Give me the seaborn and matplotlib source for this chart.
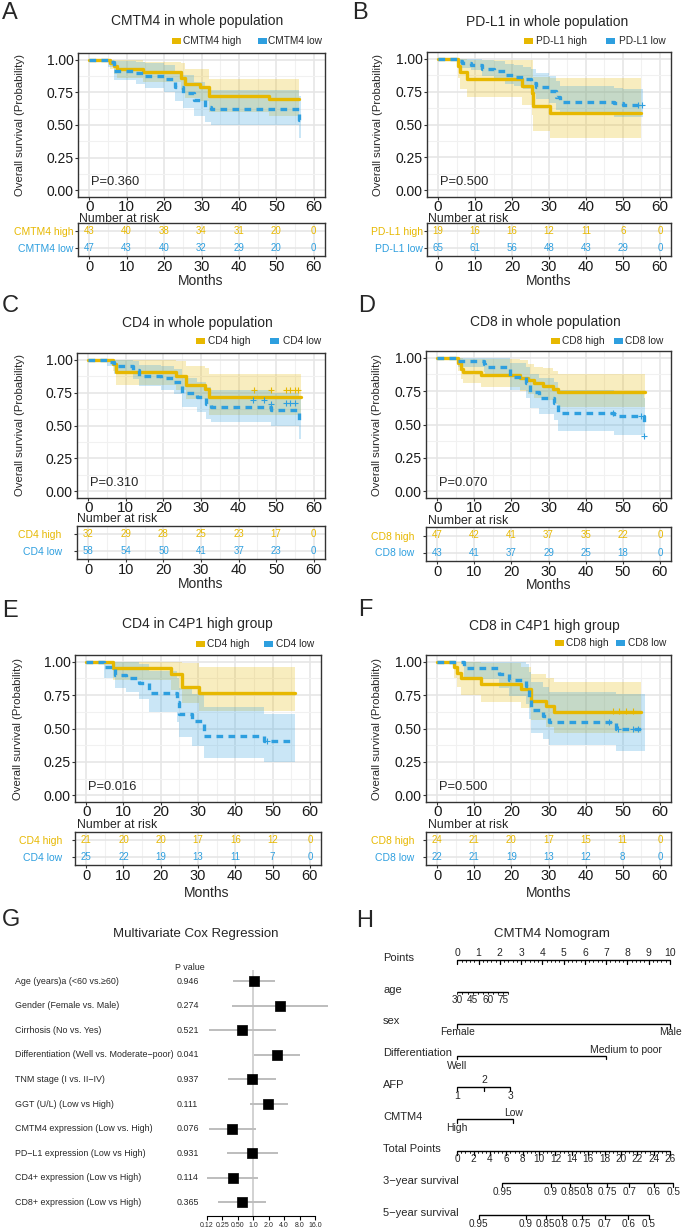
import numpy as np
import pandas as pd
import matplotlib
matplotlib.use("Agg")
import matplotlib.pyplot as plt
import matplotlib.transforms as mtransforms
from matplotlib.patches import Rectangle
from matplotlib import font_manager
import seaborn as sns

sns.set_theme(style="white")
plt.rcParams['font.family'] = ['Liberation Sans', 'DejaVu Sans']
installed = {f.name for f in font_manager.fontManager.ttflist}
HAS_NARROW = 'Liberation Sans Narrow' in installed
NARROW = ['Liberation Sans Narrow', 'DejaVu Sans'] if HAS_NARROW else ['Liberation Sans', 'DejaVu Sans']

HIGH_COL = '#E7B800'
LOW_COL = '#2E9FDF'

# ------------------------------------------------------------------
# Kaplan-Meier data (event times, survival, lower CI, upper CI)
# ------------------------------------------------------------------
risk_times = [0, 10, 20, 30, 40, 50, 60]

# A : CMTM4 whole population
A_high_t = [0, 5.5, 6.5, 7.5, 14.5, 24.5, 25.5, 29.5, 32, 48]
A_high_s = [1.0, 0.977, 0.953, 0.93, 0.907, 0.86, 0.81, 0.79, 0.72, 0.70]
A_high_lo = [1.0, 0.93, 0.89, 0.86, 0.83, 0.77, 0.71, 0.68, 0.60, 0.57]
A_high_hi = [1.0, 1.0, 1.0, 1.0, 0.98, 0.97, 0.93, 0.93, 0.85, 0.85]
A_low_t = [0, 5, 6.5, 12.5, 15, 20, 23, 25, 28, 31, 32.5, 56]
A_low_s = [1.0, 0.979, 0.915, 0.894, 0.872, 0.851, 0.787, 0.745, 0.69, 0.64, 0.62, 0.535]
A_low_lo = [1.0, 0.94, 0.84, 0.81, 0.78, 0.75, 0.68, 0.63, 0.57, 0.52, 0.50, 0.40]
A_low_hi = [1.0, 1.0, 0.99, 0.98, 0.97, 0.96, 0.91, 0.88, 0.83, 0.79, 0.77, 0.72]
A_risk_high = [43, 40, 38, 34, 31, 20, 0]
A_risk_low = [47, 43, 40, 32, 29, 20, 0]

# B : PD-L1 whole population
B_high_t = [0, 5.4, 5.9, 7.7, 22.6, 25.3, 25.7, 30.2]
B_high_s = [1.0, 0.947, 0.895, 0.842, 0.789, 0.737, 0.637, 0.585]
B_high_lo = [1.0, 0.85, 0.77, 0.71, 0.65, 0.57, 0.45, 0.40]
B_high_hi = [1.0, 1.0, 1.0, 0.99, 0.99, 0.99, 0.86, 0.855]
B_low_t = [0, 5.5, 6.5, 9, 12, 15, 18, 20.5, 23, 25, 26.5, 30, 32, 33, 47.5, 50]
B_low_s = [1.0, 0.985, 0.969, 0.954, 0.923, 0.908, 0.877, 0.862, 0.846, 0.815,
           0.785, 0.754, 0.71, 0.672, 0.66, 0.65]
B_low_lo = [1.0, 0.95, 0.93, 0.91, 0.87, 0.85, 0.81, 0.79, 0.77, 0.73,
            0.69, 0.66, 0.61, 0.57, 0.56, 0.555]
B_low_hi = [1.0, 1.0, 1.0, 1.0, 0.99, 0.98, 0.96, 0.95, 0.94, 0.92,
            0.89, 0.87, 0.83, 0.79, 0.78, 0.77]
B_low_cens_t = [54.2, 55.1]
B_low_cens_s = [0.65, 0.65]
B_risk_high = [19, 16, 16, 12, 11, 6, 0]
B_risk_low = [65, 61, 56, 48, 43, 29, 0]

# C : CD4 whole population
C_high_t = [0, 6.5, 7.3, 23.3, 26, 31, 32]
C_high_s = [1.0, 0.969, 0.906, 0.875, 0.81, 0.78, 0.72]
C_high_lo = [1.0, 0.91, 0.81, 0.77, 0.70, 0.66, 0.58]
C_high_hi = [1.0, 1.0, 1.0, 0.99, 0.95, 0.94, 0.89]
C_low_t = [0, 5, 6.9, 11.8, 13.5, 19.3, 22.8, 25, 29, 31.2, 32.6, 48.5, 56]
C_low_s = [1.0, 0.983, 0.948, 0.922, 0.876, 0.857, 0.833, 0.745, 0.714, 0.664,
           0.637, 0.619, 0.536]
C_low_lo = [1.0, 0.95, 0.89, 0.85, 0.80, 0.77, 0.74, 0.64, 0.60, 0.55, 0.53, 0.50, 0.40]
C_low_hi = [1.0, 1.0, 1.0, 0.99, 0.96, 0.95, 0.93, 0.86, 0.83, 0.79, 0.77, 0.75, 0.70]
C_high_cens_t = [44.2, 48.7, 52.7, 53.8, 54.9, 55.8]
C_high_cens_s = [0.77, 0.77, 0.77, 0.77, 0.77, 0.77]
C_low_cens_t = [43.8, 46.7, 48.7, 52.7, 53.8, 54.9]
C_low_cens_s = [0.69, 0.69, 0.664, 0.67, 0.67, 0.67]
C_risk_high = [32, 29, 28, 25, 23, 17, 0]
C_risk_low = [58, 54, 50, 41, 37, 23, 0]

# D : CD8 whole population
D_high_t = [0, 5.6, 6.5, 7, 11.9, 22.2, 24.4, 26.2, 28.5, 31.2, 32.5]
D_high_s = [1.0, 0.957, 0.915, 0.894, 0.872, 0.851, 0.830, 0.809, 0.787, 0.766, 0.745]
D_high_lo = [1.0, 0.90, 0.84, 0.81, 0.78, 0.75, 0.73, 0.70, 0.68, 0.65, 0.63]
D_high_hi = [1.0, 1.0, 1.0, 0.99, 0.99, 0.98, 0.95, 0.93, 0.92, 0.90, 0.875]
D_low_t = [0, 5.6, 12.5, 13, 19.5, 24, 25, 27.5, 31.6, 32.5, 47.6, 55.8]
D_low_s = [1.0, 0.977, 0.953, 0.93, 0.857, 0.81, 0.74, 0.70, 0.66, 0.585, 0.56, 0.51]
D_low_lo = [1.0, 0.93, 0.89, 0.86, 0.76, 0.70, 0.62, 0.58, 0.53, 0.45, 0.425, 0.40]
D_low_hi = [1.0, 1.0, 1.0, 1.0, 0.96, 0.93, 0.88, 0.85, 0.82, 0.76, 0.73, 0.70]
D_low_cens_t = [47.3, 54.9, 55.8]
D_low_cens_s = [0.585, 0.56, 0.417]
D_risk_high = [47, 42, 41, 37, 35, 22, 0]
D_risk_low = [43, 41, 37, 29, 25, 18, 0]

# E : CD4 in C4P1 high group
E_high_t = [0, 7.1, 22.7, 25.8, 30.2]
E_high_s = [1.0, 0.952, 0.905, 0.810, 0.762]
E_high_lo = [1.0, 0.86, 0.79, 0.69, 0.63]
E_high_hi = [1.0, 1.0, 1.0, 0.99, 0.96]
E_low_t = [0, 4.9, 7.6, 10.7, 14.2, 16.9, 24.4, 25, 28.4, 31.6, 47.6]
E_low_s = [1.0, 0.96, 0.90, 0.88, 0.84, 0.765, 0.70, 0.605, 0.555, 0.445, 0.405]
E_low_lo = [1.0, 0.88, 0.80, 0.77, 0.72, 0.62, 0.55, 0.44, 0.37, 0.28, 0.25]
E_low_hi = [1.0, 1.0, 1.0, 1.0, 0.98, 0.93, 0.88, 0.80, 0.76, 0.66, 0.61]
E_low_cens_t = [48.4]
E_low_cens_s = [0.41]
E_risk_high = [21, 20, 20, 17, 16, 12, 0]
E_risk_low = [25, 22, 19, 13, 11, 7, 0]

# F : CD8 in C4P1 high group
F_high_t = [0, 4.5, 5.4, 6.3, 11.7, 22.5, 25.2, 29.3, 31.5]
F_high_s = [1.0, 0.958, 0.917, 0.875, 0.833, 0.792, 0.708, 0.667, 0.625]
F_high_lo = [1.0, 0.88, 0.81, 0.75, 0.70, 0.65, 0.56, 0.51, 0.47]
F_high_hi = [1.0, 1.0, 1.0, 1.0, 0.99, 0.96, 0.91, 0.88, 0.85]
F_low_t = [0, 7.2, 16.7, 19.4, 24, 24.8, 25.2, 28.6, 30, 48.2]
F_low_s = [1.0, 0.955, 0.909, 0.864, 0.818, 0.727, 0.636, 0.591, 0.545, 0.50]
F_low_lo = [1.0, 0.87, 0.80, 0.74, 0.68, 0.57, 0.47, 0.42, 0.38, 0.33]
F_low_hi = [1.0, 1.0, 1.0, 1.0, 0.98, 0.92, 0.85, 0.81, 0.77, 0.76]
F_high_cens_t = [47.3, 49.1, 50.9, 52.7]
F_high_cens_s = [0.628, 0.628, 0.628, 0.628]
F_low_cens_t = [46.4, 48.6, 52.7, 54.0]
F_low_cens_s = [0.546, 0.5, 0.5, 0.5]
F_risk_high = [24, 21, 20, 17, 15, 11, 0]
F_risk_low = [22, 21, 19, 13, 12, 8, 0]

# G : multivariate Cox regression
cox_vars = ["Age (years)a (<60 vs.\u226560)", "Gender (Female vs. Male)", "Cirrhosis (No vs. Yes)",
            "Differentiation (Well vs. Moderate\u2212poor)", "TNM stage (I vs. II\u2212IV)",
            "GGT (U/L) (Low vs High)", "CMTM4 expression (Low vs. High)",
            "PD\u2212L1 expression (Low vs High)", "CD4+ expression (Low vs High)",
            "CD8+ expression (Low vs High)"]
cox_p = ['0.946', '0.274', '0.521', '0.041', '0.937', '0.111', '0.076', '0.931', '0.114', '0.365']
cox_hr = [1.04, 3.3, 0.60, 2.89, 0.97, 1.98, 0.39, 0.97, 0.40, 0.60]
cox_lo = [0.40, 0.38, 0.136, 1.04, 0.33, 0.86, 0.136, 0.31, 0.125, 0.21]
cox_hi = [2.67, 29.0, 2.83, 8.2, 2.83, 4.7, 1.13, 3.0, 1.27, 1.82]
cox_ticks = [0.125, 0.25, 0.5, 1, 2, 4, 8, 16]
cox_ticklabels = ['0.12', '0.25', '0.50', '1.0', '2.0', '4.0', '8.0', '16.0']

# H : nomogram (positions in points 0-10)
nomo_rows = ['Points', 'age', 'sex', 'Differentiation', 'AFP', 'CMTM4',
             'Total Points', '3\u2212year survival', '5\u2212year survival']
age_min, age_max = 30, 80
age_pts_max = 2.4
age_labels = [30, 45, 60, 75]
sex_levels = ['Female', 'Male']
sex_pts = [0, 10]
diff_levels = ['Well', 'Medium to poor']
diff_pts = [0, 7.0]
afp_levels = ['1', '2', '3']
afp_pts = [0, 1.25, 2.5]
cmtm4_levels = ['High', 'Low']
cmtm4_pts = [0, 2.63]
total_max = 26
surv_probs = ['0.95', '0.9', '0.85', '0.8', '0.75', '0.7', '0.6', '0.5']
surv3_total = [5.5, 11.4, 13.8, 15.8, 18.3, 21.0, 24.0, 26.4]
surv5_total = [2.6, 8.4, 10.8, 12.8, 15.2, 18.0, 20.9, 23.4]

# ------------------------------------------------------------------
W, H = 685, 1228
fig = plt.figure(figsize=(W / 100, H / 100), dpi=100)


def box(l, t, r, b):
    return [l / W, 1 - b / H, (r - l) / W, (b - t) / H]


def fx(x):
    return x / W


def fy(y):
    return 1 - y / H


def step_curve(ax, t, s, lo, hi, t_end, color, dashed):
    tt = list(t) + [t_end]
    ss = list(s) + [s[-1]]
    ll = list(lo) + [lo[-1]]
    hh = list(hi) + [hi[-1]]
    ax.fill_between(tt, ll, hh, step='post', color=color, alpha=0.25, linewidth=0, zorder=1)
    df = pd.DataFrame({'t': tt, 's': ss})
    ls = (0, (2.0, 1.6)) if dashed else '-'
    sns.lineplot(data=df, x='t', y='s', ax=ax, color=color, linewidth=2.4, linestyle=ls,
                 drawstyle='steps-post', estimator=None, sort=False, zorder=3)


def style_grid(ax):
    ax.grid(which='major', color='#E6E6E6', linewidth=1.2)
    ax.grid(which='minor', color='#F1F1F1', linewidth=0.8)
    ax.set_axisbelow(True)
    for sp in ax.spines.values():
        sp.set_color('#333333')
        sp.set_linewidth(1.0)


def km_panel(p):
    lay = p['lay']
    ax = fig.add_axes(box(*lay['main']))
    h, l = p['high'], p['low']
    step_curve(ax, *h, p['end_high'], HIGH_COL, False)
    step_curve(ax, *l, p['end_low'], LOW_COL, True)
    for (ct, cs), col in ((p['cens_high'], HIGH_COL), (p['cens_low'], LOW_COL)):
        if ct:
            ax.scatter(ct, cs, marker='+', s=14, color=col, linewidths=0.8, zorder=4)
    ax.set_xlim(-3, 63)
    ax.set_ylim(-0.05, 1.05)
    ax.set_xticks(risk_times)
    ax.set_xticks([5, 15, 25, 35, 45, 55], minor=True)
    ax.set_yticks([0, 0.25, 0.5, 0.75, 1.0])
    ax.set_yticklabels(['0.00', '0.25', '0.50', '0.75', '1.00'])
    ax.set_yticks([0.125, 0.375, 0.625, 0.875], minor=True)
    ax.tick_params(axis='both', which='major', left=True, bottom=True, length=2,
                   width=0.8, color='#333333')
    ax.tick_params(axis='both', which='minor', length=0)
    ax.tick_params(axis='y', labelsize=10, pad=1, labelcolor='#1a1a1a')
    ax.tick_params(axis='x', labelsize=11, pad=0, labelcolor='#1a1a1a')
    ax.set_xlabel('')
    ax.set_ylabel('')
    style_grid(ax)
    ax.text(0.4, 0.065, 'P=' + p['pval'], fontsize=9.3, ha='left', va='center')

    # risk table
    rax = fig.add_axes(box(*lay['risk']))
    rax.set_xlim(-3, 63)
    rax.set_ylim(1.5, -0.5)
    for row, (vals, col) in enumerate(((p['risk_high'], HIGH_COL), (p['risk_low'], LOW_COL))):
        for t, v in zip(risk_times, vals):
            rax.text(t, row, str(v), color=col, ha='center', va='center', fontsize=7)
    rax.set_xticks(risk_times)
    rax.set_xticks([5, 15, 25, 35, 45, 55], minor=True)
    rax.set_yticks([0, 1])
    rax.set_yticklabels(p['names'])
    for lbl, col in zip(rax.get_yticklabels(), (HIGH_COL, LOW_COL)):
        lbl.set_color(col)
    rax.tick_params(axis='both', which='major', left=True, bottom=True, length=2,
                    width=0.8, color='#333333')
    rax.tick_params(axis='both', which='minor', length=0)
    rax.tick_params(axis='y', labelsize=7.5, pad=lay['pad'])
    rax.tick_params(axis='x', labelsize=10.5, pad=1, labelcolor='#1a1a1a')
    style_grid(rax)

    # texts around panel
    fig.text(fx(lay['letter'][0]), fy(lay['letter'][1]), p['letter'], fontsize=17,
             ha='left', va='center')
    fig.text(fx(lay['title'][0]), fy(lay['title'][1]), p['title'], fontsize=10,
             ha='center', va='center')
    mt, mb = lay['main'][1], lay['main'][3]
    fig.text(fx(lay['ylab']), fy((mt + mb) / 2), 'Overall survival (Probability)',
             rotation=90, fontsize=8.2, ha='center', va='center')
    fig.text(fx(lay['nar'][0]), fy(lay['nar'][1] + 1.5), 'Number at risk', fontsize=8.8,
             ha='left', va='center')
    fig.text(fx(lay['months'][0]), fy(lay['months'][1]), 'Months', fontsize=10,
             ha='center', va='center')
    ly = lay['leg_y']
    for (kx, tx), name, col in zip(lay['leg'], p['names'], (HIGH_COL, LOW_COL)):
        fig.add_artist(Rectangle((fx(kx), fy(ly + 3)), 9 / W, 6 / H, transform=fig.transFigure,
                                 facecolor=col, edgecolor='none'))
        fig.text(fx(tx), fy(ly), name, fontsize=7.3, ha='left', va='center')


layouts = {
    'A': dict(main=(78, 53, 325, 197), risk=(78, 223, 325, 256), letter=(2, 13), title=(197, 21),
              ylab=20, nar=(79, 218), months=(201, 281), pad=1.0, leg_y=41,
              leg=[(172, 183), (258, 268)]),
    'B': dict(main=(427, 52, 671, 197), risk=(427, 223, 671, 256), letter=(352, 13), title=(547, 22),
              ylab=378, nar=(428, 218), months=(549, 281), pad=1.2, leg_y=41,
              leg=[(524, 536), (606, 619)]),
    'C': dict(main=(77, 353, 325, 498), risk=(77, 526, 325, 559), letter=(2, 306), title=(197, 323),
              ylab=20, nar=(77, 517), months=(201, 584), pad=9.0, leg_y=341,
              leg=[(196, 208), (270, 283)]),
    'D': dict(main=(426, 351, 671, 498), risk=(426, 527, 671, 561), letter=(358, 306), title=(545, 322),
              ylab=377, nar=(428, 519), months=(549, 585), pad=6.6, leg_y=341,
              leg=[(551, 562), (614, 625)]),
    'E': dict(main=(75, 655, 321, 802), risk=(75, 832, 321, 865), letter=(2, 611), title=(197, 624),
              ylab=18, nar=(77, 823), months=(207, 893), pad=7.5, leg_y=644,
              leg=[(196, 207), (264, 276)]),
    'F': dict(main=(426, 655, 671, 802), risk=(426, 832, 671, 865), letter=(358, 610), title=(544, 626),
              ylab=377, nar=(428, 823), months=(549, 893), pad=6.6, leg_y=643,
              leg=[(555, 566), (616, 628)]),
}

panels = [
    dict(letter='A', title='CMTM4 in whole population', names=['CMTM4 high', 'CMTM4 low'],
         high=(A_high_t, A_high_s, A_high_lo, A_high_hi), low=(A_low_t, A_low_s, A_low_lo, A_low_hi),
         end_high=56, end_low=56.5, cens_high=([], []), cens_low=([], []),
         risk_high=A_risk_high, risk_low=A_risk_low, pval='0.360'),
    dict(letter='B', title='PD-L1 in whole population', names=['PD-L1 high', 'PD-L1 low'],
         high=(B_high_t, B_high_s, B_high_lo, B_high_hi), low=(B_low_t, B_low_s, B_low_lo, B_low_hi),
         end_high=55, end_low=55.5, cens_high=([], []), cens_low=(B_low_cens_t, B_low_cens_s),
         risk_high=B_risk_high, risk_low=B_risk_low, pval='0.500'),
    dict(letter='C', title='CD4 in whole population', names=['CD4 high', 'CD4 low'],
         high=(C_high_t, C_high_s, C_high_lo, C_high_hi), low=(C_low_t, C_low_s, C_low_lo, C_low_hi),
         end_high=56.5, end_low=56.5, cens_high=(C_high_cens_t, C_high_cens_s),
         cens_low=(C_low_cens_t, C_low_cens_s),
         risk_high=C_risk_high, risk_low=C_risk_low, pval='0.310'),
    dict(letter='D', title='CD8 in whole population', names=['CD8 high', 'CD8 low'],
         high=(D_high_t, D_high_s, D_high_lo, D_high_hi), low=(D_low_t, D_low_s, D_low_lo, D_low_hi),
         end_high=56, end_low=56, cens_high=([], []), cens_low=(D_low_cens_t, D_low_cens_s),
         risk_high=D_risk_high, risk_low=D_risk_low, pval='0.070'),
    dict(letter='E', title='CD4 in C4P1 high group', names=['CD4 high', 'CD4 low'],
         high=(E_high_t, E_high_s, E_high_lo, E_high_hi), low=(E_low_t, E_low_s, E_low_lo, E_low_hi),
         end_high=56, end_low=56, cens_high=([], []), cens_low=(E_low_cens_t, E_low_cens_s),
         risk_high=E_risk_high, risk_low=E_risk_low, pval='0.016'),
    dict(letter='F', title='CD8 in C4P1 high group', names=['CD8 high', 'CD8 low'],
         high=(F_high_t, F_high_s, F_high_lo, F_high_hi), low=(F_low_t, F_low_s, F_low_lo, F_low_hi),
         end_high=55, end_low=56, cens_high=(F_high_cens_t, F_high_cens_s),
         cens_low=(F_low_cens_t, F_low_cens_s),
         risk_high=F_risk_high, risk_low=F_risk_low, pval='0.500'),
]

for p in panels:
    p['lay'] = layouts[p['letter']]
    km_panel(p)

# ------------------------------------------------------------------
# G : forest plot
# ------------------------------------------------------------------
fs_lab = 7.2 if HAS_NARROW else 6.4
fs_tick = 5.8 if HAS_NARROW else 5.0
fax = fig.add_axes(box(200, 970, 332, 1216))
fax.set_xscale('log', base=2)
fax.set_xlim(0.0927, 34.2)
fax.set_ylim(9.55, -0.45)
rows = np.arange(len(cox_vars))
fax.axvline(1, color='#CFCFCF', linewidth=1.3, zorder=0)
fax.hlines(rows, cox_lo, cox_hi, color='#BDBDBD', linewidth=1.4, zorder=1)
sns.scatterplot(x=cox_hr, y=rows, marker='s', s=52, color='black', edgecolor='black',
                linewidth=0.5, ax=fax, zorder=3, legend=False)
for side in ('left', 'top', 'right'):
    fax.spines[side].set_visible(False)
fax.spines['bottom'].set_color('black')
fax.spines['bottom'].set_linewidth(0.8)
fax.spines['bottom'].set_bounds(cox_ticks[0], cox_ticks[-1])
fax.set_xticks(cox_ticks)
fax.set_xticklabels(cox_ticklabels, family=NARROW, fontsize=fs_tick)
fax.minorticks_off()
fax.set_yticks([])
fax.tick_params(axis='x', bottom=True, length=3, width=0.8, color='black', pad=1.5)
fax.set_xlabel('')
trans = mtransforms.blended_transform_factory(fig.transFigure, fax.transData)
for i, (name, pv) in enumerate(zip(cox_vars, cox_p)):
    fax.text(fx(15), i, name, transform=trans, family=NARROW, fontsize=fs_lab,
             ha='left', va='center')
    fax.text(fx(177), i, pv, transform=trans, family=NARROW, fontsize=fs_lab,
             ha='left', va='center')
fig.text(fx(175), fy(968), 'P value', family=NARROW, fontsize=fs_lab, ha='left', va='center')
fig.text(fx(2), fy(920), 'G', fontsize=17, ha='left', va='center')
fig.text(fx(196), fy(934), 'Multivariate Cox Regression', fontsize=9.5, ha='center', va='center')

# ------------------------------------------------------------------
# H : nomogram
# ------------------------------------------------------------------
nax = fig.add_axes(box(380, 940, 684, 1228))
nax.set_xlim(-3.634, 10.658)
nax.set_ylim(8.41, -0.627)
nax.axis('off')
TICK = 0.12
ABOVE, BELOW = -0.23, 0.27
ntrans = mtransforms.blended_transform_factory(fig.transFigure, nax.transData)


def scale_line(row, x0, x1, major, minor=(), minor_len=0.06):
    nax.plot([x0, x1], [row, row], color='black', linewidth=1.0, solid_capstyle='butt')
    for x in major:
        nax.plot([x, x], [row, row + TICK], color='black', linewidth=0.9)
    for x in minor:
        nax.plot([x, x], [row, row + minor_len], color='black', linewidth=0.6)


def lab(x, row, text, off, size=7.5):
    nax.text(x, row + off, text, fontsize=size, ha='center', va='center')


for i, name in enumerate(nomo_rows):
    nax.text(fx(383), i - 0.07, name, transform=ntrans, fontsize=8, ha='left', va='center')

# Points
pts_major = np.arange(0, 11)
scale_line(0, 0, 10, pts_major, np.arange(0, 10.01, 0.2))
for v in pts_major:
    lab(v, 0, str(v), ABOVE)
# age
age_scale = age_pts_max / (age_max - age_min)
age_ticks = np.arange(age_min, age_max + 1, 5)
scale_line(1, 0, age_pts_max, [], (age_ticks - age_min) * age_scale, minor_len=0.08)
for a in age_labels:
    lab((a - age_min) * age_scale, 1, str(a), BELOW, size=7.2)
# sex
scale_line(2, sex_pts[0], sex_pts[-1], sex_pts)
for name, v in zip(sex_levels, sex_pts):
    lab(v, 2, name, BELOW)
# differentiation
scale_line(3, diff_pts[0], diff_pts[-1], diff_pts)
lab(diff_pts[0], 3, diff_levels[0], BELOW + 0.07)
lab(diff_pts[1] + 0.95, 3, diff_levels[1], ABOVE + 0.04)
# AFP
scale_line(4, afp_pts[0], afp_pts[-1], afp_pts)
for k, (name, v) in enumerate(zip(afp_levels, afp_pts)):
    lab(v, 4, name, ABOVE if k == 1 else BELOW)
# CMTM4
scale_line(5, cmtm4_pts[0], cmtm4_pts[-1], cmtm4_pts)
lab(cmtm4_pts[0], 5, cmtm4_levels[0], BELOW)
lab(cmtm4_pts[1], 5, cmtm4_levels[1], ABOVE + 0.02)
# Total points
tp = 10 / total_max
tot_major = np.arange(0, total_max + 1, 2)
scale_line(6, 0, total_max * tp, tot_major * tp, np.arange(0, total_max + 0.01, 0.5) * tp)
for v in tot_major:
    lab(v * tp, 6, str(v), BELOW - 0.04, size=7.2)
# survival scales
for row, tot in ((7, surv3_total), (8, surv5_total)):
    xs = [v * tp for v in tot]
    scale_line(row, xs[0], xs[-1], xs)
    for x, s in zip(xs, surv_probs):
        lab(x, row, s, BELOW, size=7.2)

fig.text(fx(356), fy(921), 'H', fontsize=17, ha='left', va='center')
fig.text(fx(552), fy(934), 'CMTM4 Nomogram', fontsize=9.5, ha='center', va='center')

fig.savefig('out.png', dpi=100)
